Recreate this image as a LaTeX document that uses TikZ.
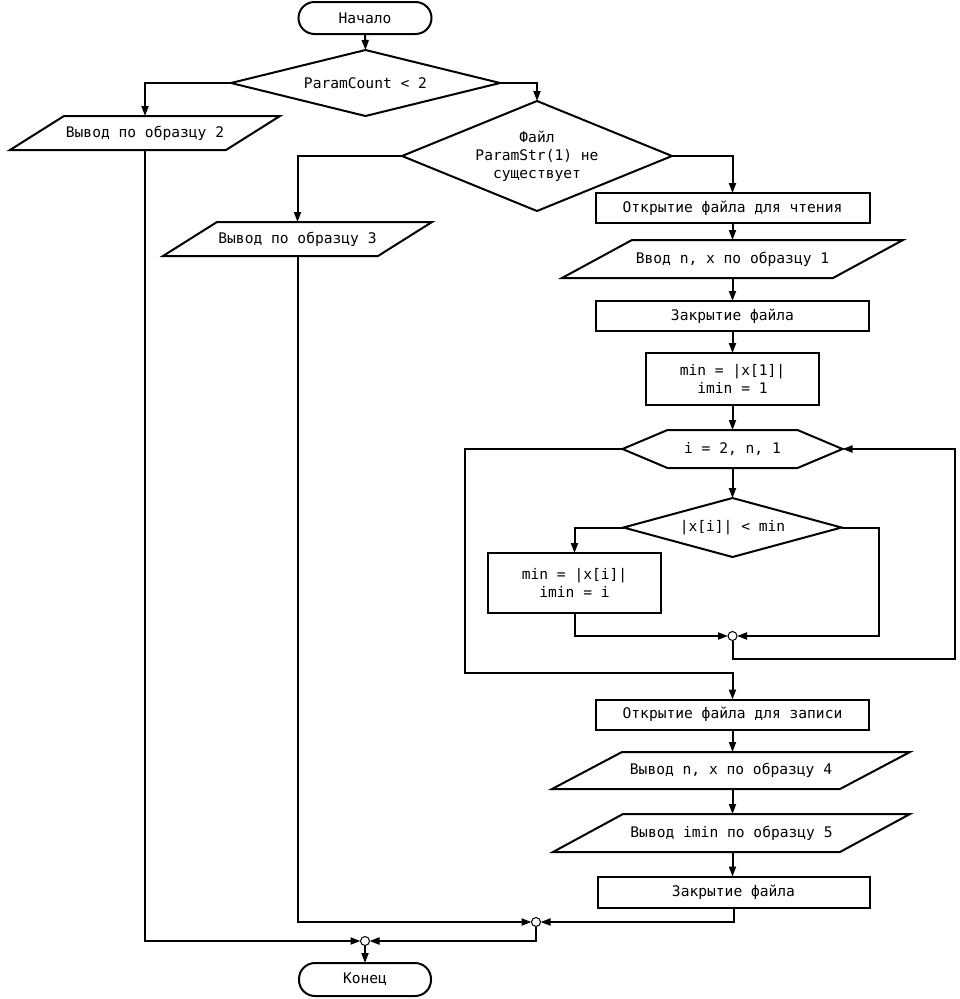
\documentclass[tikz,border=0pt]{standalone}
\usepackage{fontspec}
\setmonofont{DejaVu Sans Mono}
\usetikzlibrary{arrows.meta,shapes.geometric,calc}
\tikzset{
  base/.style={font=\ttfamily\fontsize{14.6}{18}\selectfont, align=center, inner sep=0pt, outer sep=0pt},
  shp/.style={line width=2pt, line join=miter},
  term/.style={base, draw, shp, rounded corners=16pt},
  proc/.style={base, draw, shp, rectangle},
  hold/.style={base, rectangle},
  dec/.style={base, draw, shp, diamond},
  arr/.style={line width=2pt, -{Triangle[length=10pt,width=7pt]}},
  junc/.style={circle, draw, fill=white, line width=1pt, minimum size=9pt, inner sep=0pt, outer sep=0pt}
}
\newcommand\paraout[2]{\draw[shp] (#1.south west) -- ++(#2,0) -- (#1.north east) -- ++(-#2,0) -- cycle;}
\begin{document}
\begin{tikzpicture}[x=1pt,y=-1pt]
\useasboundingbox (0,0) rectangle (959,999);

% nodes
\node[term, minimum width=133, minimum height=32] (start) at (365,18) {Начало};
\node[dec, aspect=4.076, minimum width=269, minimum height=66] (d1) at (365.5,83) {ParamCount < 2};
\node[hold, minimum width=270, minimum height=34] (p2) at (145,133) {Вывод по образцу 2};
\paraout{p2}{216}
\node[dec, aspect=2.4545, minimum width=270, minimum height=110] (d2) at (537,156) {Файл\\ParamStr(1) не\\существует};
\node[hold, minimum width=269, minimum height=34] (p3) at (297.5,239) {Вывод по образцу 3};
\paraout{p3}{215}
\node[proc, minimum width=274, minimum height=30] (r1) at (732.5,208) {Открытие файла для чтения};
\node[hold, minimum width=341, minimum height=38] (p1) at (732.5,259) {Ввод n, x по образцу 1};
\paraout{p1}{271}
\node[proc, minimum width=273, minimum height=30] (r2) at (732.5,316) {Закрытие файла};
\node[proc, minimum width=173, minimum height=52] (r3) at (732.5,379) {min = |x[1]|\\imin = 1};
\node[hold, minimum width=220, minimum height=38] (hex) at (732.5,449) {i = 2, n, 1};
\draw[shp] (hex.west) -- ++(45,-19) -- ++(130,0) -- (hex.east) -- ++(-45,19) -- ++(-130,0) -- cycle;
\node[dec, aspect=3.695, minimum width=218, minimum height=59] (d3) at (732.5,527.5) {|x[i]| < min};
\node[proc, minimum width=173, minimum height=60] (r4) at (574.5,583) {min = |x[i]|\\imin = i};
\node[junc] (j1) at (732.5,636) {};
\node[proc, minimum width=273, minimum height=30] (r5) at (732.5,714.5) {Открытие файла для записи};
\node[hold, minimum width=358, minimum height=37] (p4) at (731,770.5) {Вывод n, x по образцу 4};
\paraout{p4}{288}
\node[hold, minimum width=357, minimum height=38] (p5) at (731.5,833) {Вывод imin по образцу 5};
\paraout{p5}{287}
\node[proc, minimum width=272, minimum height=31] (r6) at (733.5,892) {Закрытие файла};
\node[junc] (j2) at (536,922) {};
\node[junc] (j3) at (365,941) {};
\node[term, minimum width=132, minimum height=33] (end) at (365,979.5) {Конец};

% connectors
\draw[arr] (start.south) -- (d1.north);
\draw[arr] (d1.west) -| (p2.north);
\draw[arr] (d1.east) -| (d2.north);
\draw[arr] (d2.west) -| (p3.north);
\draw[arr] (d2.east) -| (r1.north);
\draw[arr] (r1.south) -- (p1.north);
\draw[arr] (p1.south) -- (r2.north);
\draw[arr] (r2.south) -- (r3.north);
\draw[arr] (r3.south) -- (hex.north);
\draw[arr] (hex.south) -- (d3.north);
\draw[arr] (d3.west) -| (r4.north);
\draw[arr] (d3.east) -- (879,527.5) |- (j1.east);
\draw[arr] (r4.south) |- (j1.west);
\draw[arr] (j1.south) |- (955,659) |- (hex.east);
\draw[arr] (hex.west) -| (465,673) -| (r5.north);
\draw[arr] (r5.south) -- (p4.north -| r5.south);
\draw[arr] (p4.south -| r5.south) -- (p5.north -| r5.south);
\draw[arr] (p5.south -| r5.south) -- (r6.north -| r5.south);
\draw[arr] (r6.south) |- (j2.east);
\draw[arr] (p3.south) |- (j2.west);
\draw[arr] (j2.south) |- (j3.east);
\draw[arr] (p2.south) |- (j3.west);
\draw[arr] (j3.south) -- (end.north);
\end{tikzpicture}
\end{document}
